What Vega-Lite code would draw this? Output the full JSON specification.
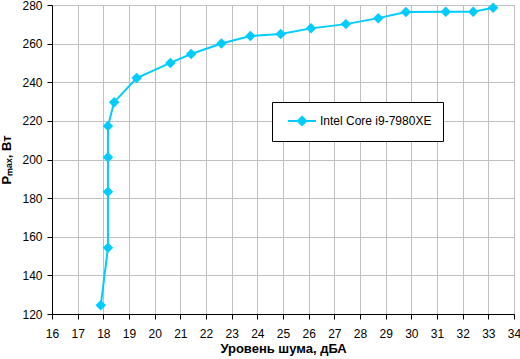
{
  "$schema": "https://vega.github.io/schema/vega-lite/v6.json",
  "width": 462,
  "height": 309,
  "autosize": "none",
  "padding": {"left": 52, "top": 5, "right": 6, "bottom": 45},
  "background": "white",
  "config": {
    "font": "Liberation Sans",
    "view": {"stroke": "#999999", "strokeWidth": 1},
    "legend": {"strokeWidth": 1},
    "axis": {
      "gridColor": "#c0c0c0",
      "gridWidth": 1,
      "domainColor": "black",
      "tickColor": "black",
      "tickSize": 5,
      "labelFont": "Liberation Sans",
      "labelFontSize": 12,
      "labelColor": "black",
      "titleFont": "Liberation Sans",
      "titleFontSize": 13,
      "titleFontWeight": "bold",
      "titleColor": "black"
    }
  },
  "data": {
    "values": [
      {"noise": 17.9, "power": 124.5, "series": "Intel Core i9-7980XE"},
      {"noise": 18.18, "power": 154.3, "series": "Intel Core i9-7980XE"},
      {"noise": 18.18, "power": 183.3, "series": "Intel Core i9-7980XE"},
      {"noise": 18.18, "power": 201.2, "series": "Intel Core i9-7980XE"},
      {"noise": 18.18, "power": 217.3, "series": "Intel Core i9-7980XE"},
      {"noise": 18.42, "power": 229.7, "series": "Intel Core i9-7980XE"},
      {"noise": 19.3, "power": 242.2, "series": "Intel Core i9-7980XE"},
      {"noise": 20.61, "power": 250.0, "series": "Intel Core i9-7980XE"},
      {"noise": 21.42, "power": 254.6, "series": "Intel Core i9-7980XE"},
      {"noise": 22.6, "power": 260.1, "series": "Intel Core i9-7980XE"},
      {"noise": 23.73, "power": 263.9, "series": "Intel Core i9-7980XE"},
      {"noise": 24.91, "power": 265.0, "series": "Intel Core i9-7980XE"},
      {"noise": 26.09, "power": 267.9, "series": "Intel Core i9-7980XE"},
      {"noise": 27.45, "power": 270.1, "series": "Intel Core i9-7980XE"},
      {"noise": 28.71, "power": 273.2, "series": "Intel Core i9-7980XE"},
      {"noise": 29.79, "power": 276.4, "series": "Intel Core i9-7980XE"},
      {"noise": 31.34, "power": 276.5, "series": "Intel Core i9-7980XE"},
      {"noise": 32.41, "power": 276.5, "series": "Intel Core i9-7980XE"},
      {"noise": 33.19, "power": 278.6, "series": "Intel Core i9-7980XE"}
    ]
  },
  "encoding": {
    "x": {
      "field": "noise",
      "type": "quantitative",
      "scale": {"domain": [16, 34], "nice": false, "zero": false},
      "axis": {
        "title": "Уровень шума, дБА",
        "values": [16,17,18,19,20,21,22,23,24,25,26,27,28,29,30,31,32,33,34],
        "labelPadding": 9,
        "titlePadding": 3,
        "labelFlush": false
      }
    },
    "y": {
      "field": "power",
      "type": "quantitative",
      "scale": {"domain": [120, 280], "nice": false, "zero": false},
      "axis": {
        "title": "Pₘₐₓ, Вт",
        "values": [120,140,160,180,200,220,240,260,280],
        "labelPadding": 5,
        "titlePadding": 8,
        "labelFlush": false
      }
    },
    "color": {
      "field": "series",
      "type": "nominal",
      "scale": {"range": ["#00ccff"]},
      "legend": {
        "title": null,
        "orient": "none",
        "legendX": 220,
        "legendY": 97,
        "strokeColor": "black",
        "fillColor": "white",
        "padding": 11,
        "symbolOffset": 18,
        "symbolType": "M-3,0L1,0M-1,-0.6L-0.4,0L-1,0.6L-1.6,0Z",
        "symbolSize": 196,
        "symbolStrokeWidth": 2,
        "symbolFillColor": "#00ccff",
        "symbolStrokeColor": "#00ccff",
        "labelOffset": 3,
        "labelFontSize": 12,
        "labelFont": "Liberation Sans",
        "labelColor": "black",
        "cornerRadius": 0
      }
    }
  },
  "layer": [
    {"mark": {"type": "line", "strokeWidth": 2}},
    {"mark": {"type": "point", "shape": "diamond", "filled": true, "size": 110, "opacity": 1}}
  ]
}
